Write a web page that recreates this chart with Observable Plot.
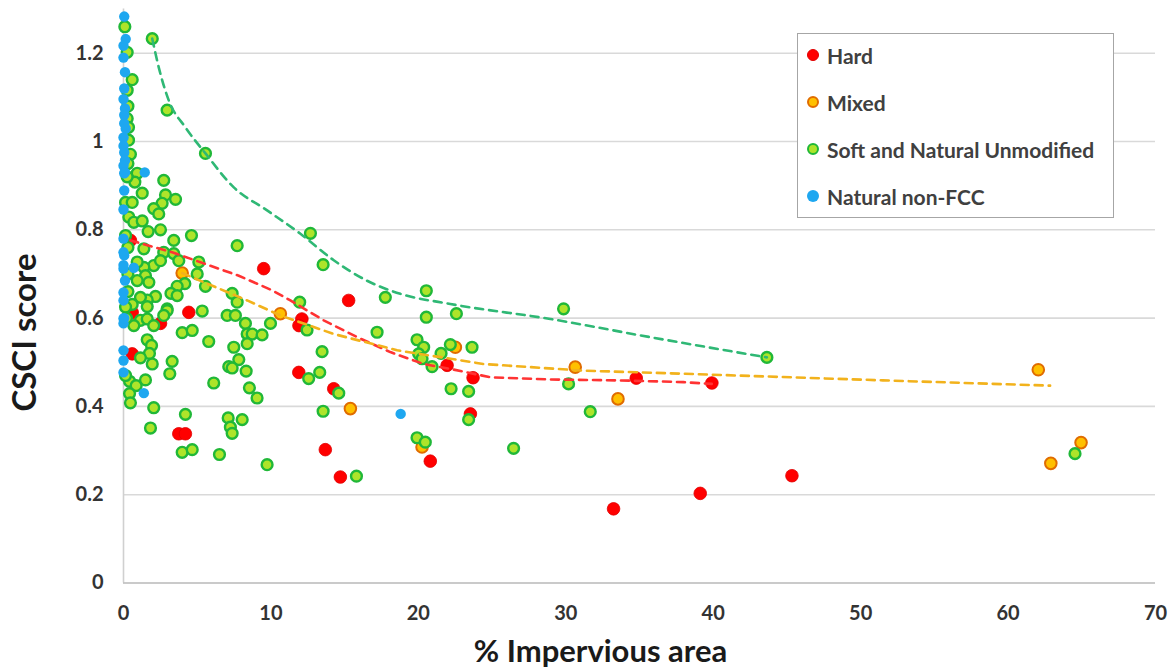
<!DOCTYPE html>
<html><head><meta charset="utf-8">
<script src="https://cdn.jsdelivr.net/npm/d3@7"></script>
<script src="https://cdn.jsdelivr.net/npm/@observablehq/plot@0.6"></script>
<style>
body{margin:0;background:#fff;}
#chart{position:relative;width:1172px;height:670px;font-family:Lato,"Open Sans",sans-serif;}
#legend{position:absolute;left:797px;top:33px;width:317px;height:185px;border:1.5px solid #a6a6a6;background:#fff;box-sizing:border-box;}
.item{position:absolute;left:9px;height:24px;display:flex;align-items:center;font-size:21px;font-weight:bold;color:#404040;white-space:nowrap;}
.sw{width:12px;height:12px;border-radius:50%;margin-right:8px;box-sizing:border-box;}
</style></head>
<body><div id="chart"></div>
<script>
// ---- data ----
const categories = ["Hard", "Mixed", "Soft and Natural Unmodified", "Natural non-FCC"];
const xTicks = [0, 10, 20, 30, 40, 50, 60, 70];
const yTicks = [0, 0.2, 0.4, 0.6, 0.8, 1, 1.2];
const xTitle = "% Impervious area";
const yTitle = "CSCI score";

const hardX = [0.47, 9.51, 4.43, 2.51, 0.59, 0.59, 15.27, 12.1, 11.9, 11.89, 14.26, 13.69, 14.71, 3.75, 4.2, 21.95, 23.71, 23.53, 20.81, 34.78, 39.91, 33.24, 39.12, 45.34];
const hardY = [0.776, 0.712, 0.613, 0.588, 0.613, 0.519, 0.640, 0.598, 0.583, 0.477, 0.44, 0.302, 0.240, 0.338, 0.338, 0.493, 0.465, 0.383, 0.276, 0.464, 0.453, 0.168, 0.203, 0.243];

const mixedX = [3.98, 10.64, 15.39, 22.51, 20.25, 30.64, 33.54, 62.05, 62.9, 64.95];
const mixedY = [0.702, 0.610, 0.395, 0.534, 0.308, 0.489, 0.417, 0.483, 0.271, 0.318];

const softX = [0.09,1.95,0.25,0.59,0.25,2.96,0.25,0.34,0.34,5.56,0.47,0.93,0.77,2.73,1.27,2.85,3.53,2.62,2.05,2.39,0.14,0.59,0.36,0.70,1.27,1.67,2.51,4.61,3.41,7.71,12.68,13.54,0.14,1.38,2.73,3.41,3.75,5.11,2.05,1.38,0.93,2.51,1.49,1.72,0.93,5.56,5.0,4.16,3.64,3.22,3.64,2.17,1.61,1.15,1.61,0.59,0.14,7.37,7.71,2.96,5.34,7.03,7.59,8.27,9.97,11.95,12.45,17.76,20.54,20.54,22.58,17.2,13.47,13.31,12.56,14.6,13.54,19.91,20.36,20.02,20.25,20.93,21.54,22.17,23.64,22.22,23.41,23.41,19.91,20.47,15.8,29.85,30.19,31.66,43.64,26.46,64.54,3.98,4.66,5.78,8.39,8.73,9.4,7.48,8.39,7.82,7.14,7.37,8.32,6.12,8.54,9.06,3.3,3.14,1.61,1.9,1.76,1.15,1.95,0.41,0.86,1.49,0.41,0.47,2.05,4.2,1.83,7.1,8.05,7.25,7.37,3.98,4.66,6.51,9.74,0.14,1.15,1.61,2.05,0.7,2.96,2.73,0.2,0.3,0.3,0.3,0.25,0.3,0.3];
const softY = [1.26,1.233,1.202,1.140,1.116,1.071,1.052,1.032,1.003,0.973,0.971,0.928,0.908,0.912,0.883,0.879,0.869,0.860,0.848,0.836,0.862,0.862,0.829,0.817,0.820,0.796,0.800,0.787,0.776,0.764,0.792,0.721,0.787,0.757,0.749,0.746,0.730,0.727,0.719,0.715,0.727,0.730,0.696,0.681,0.685,0.672,0.700,0.678,0.672,0.656,0.651,0.649,0.641,0.647,0.626,0.631,0.625,0.656,0.636,0.621,0.616,0.606,0.606,0.588,0.588,0.636,0.573,0.647,0.662,0.602,0.610,0.568,0.524,0.477,0.463,0.430,0.389,0.551,0.534,0.519,0.508,0.490,0.520,0.540,0.534,0.440,0.434,0.370,0.329,0.319,0.242,0.621,0.451,0.388,0.511,0.305,0.293,0.567,0.572,0.547,0.564,0.564,0.562,0.534,0.542,0.506,0.490,0.487,0.480,0.453,0.442,0.419,0.502,0.474,0.551,0.538,0.520,0.510,0.496,0.457,0.447,0.460,0.429,0.408,0.397,0.382,0.351,0.374,0.370,0.353,0.339,0.296,0.302,0.291,0.268,0.47,0.595,0.598,0.583,0.583,0.617,0.606,0.60,0.66,0.70,0.76,0.92,0.95,1.08];

const natX = [0.05,0.15,0,0.1,0.05,0,0.1,0.05,0.15,0,0.05,0.1,0,0.05,1.44,0.05,0,0,0,0.05,0,0.70,0.1,0,0,0,0,0,0,1.38,18.8,0,0.05,0,0.1,0,0,0.05];
const natY = [1.283,1.232,1.217,1.157,1.120,1.096,1.075,1.041,1.029,1.009,0.975,0.957,0.945,0.928,0.930,0.889,0.846,0.780,0.749,0.742,0.712,0.714,0.685,0.658,0.599,0.588,0.527,0.504,0.477,0.430,0.383,1.19,1.06,0.99,0.93,0.72,0.64,0.60];

// trend lines (dashed), vertices
const hardTrendX = [0.47, 3.3, 7.82, 10.08, 11.32, 13.58, 15.84, 18.1, 20.36, 22.17, 24.88, 28.95, 33.47, 37.99, 39.9];
const hardTrendY = [0.776, 0.749, 0.696, 0.663, 0.640, 0.595, 0.557, 0.523, 0.496, 0.485, 0.466, 0.461, 0.459, 0.455, 0.451];
const mixedTrendX = [3.98, 8.39, 10.64, 14.26, 18.56, 24.43, 31.2, 37.99, 51.5, 62.85];
const mixedTrendY = [0.702, 0.640, 0.606, 0.564, 0.527, 0.496, 0.481, 0.474, 0.459, 0.447];
const softTrendX = [1.95, 2.39, 3.07, 4.2, 5.56, 7.48, 9.74, 12.0, 14.26, 16.5, 18.78, 22.17, 28.95, 35.7, 43.64];
const softTrendY = [1.233, 1.168, 1.093, 1.032, 0.973, 0.896, 0.844, 0.791, 0.731, 0.685, 0.655, 0.632, 0.598, 0.557, 0.511];

// ---- styles ----
const look = {
  "Hard": {fill: "#ff0000", stroke: "#e00000", sw: 0.8, r: 6.3, line: "#ff3333", curve: "linear"},
  "Mixed": {fill: "#ffc000", stroke: "#e06c00", sw: 2, r: 5.8, line: "#f2b21c", curve: "linear"},
  "Soft and Natural Unmodified": {fill: "#aee42a", stroke: "#20b838", sw: 2.4, r: 5.4, line: "#2fb875", curve: "monotone-x"},
  "Natural non-FCC": {fill: "#1ea7f0", stroke: "none", sw: 0, r: 5.2, line: null}
};

const table = (xs, ys) => xs.map((x, i) => ({x, y: ys[i]}));
const series = {
  "Hard": table(hardX, hardY),
  "Mixed": table(mixedX, mixedY),
  "Soft and Natural Unmodified": table(softX, softY),
  "Natural non-FCC": table(natX, natY)
};
const trends = [
  ["Hard", table(hardTrendX, hardTrendY)],
  ["Mixed", table(mixedTrendX, mixedTrendY)],
  ["Soft and Natural Unmodified", table(softTrendX, softTrendY)]
];

const dotMarks = categories.map(c => Plot.dot(series[c], {
  x: "x", y: "y", r: look[c].r, fill: look[c].fill, stroke: look[c].stroke, strokeWidth: look[c].sw
}));
const lineMarks = trends.map(([c, d]) => Plot.line(d, {
  x: "x", y: "y", stroke: look[c].line, strokeWidth: 2.6, strokeDasharray: "8,6", curve: look[c].curve
}));

const chart = Plot.plot({
  width: 1172, height: 670,
  marginLeft: 123, marginRight: 17, marginTop: 8.55, marginBottom: 87.5,
  style: {fontFamily: "Lato, 'Open Sans', sans-serif", background: "white", overflow: "visible"},
  x: {domain: [0, 70]},
  y: {domain: [0, 1.3]},
  marks: [
    Plot.ruleY(yTicks.filter(d => d > 0), {stroke: "#d9d9d9", strokeWidth: 1.6}),
    Plot.ruleX([0], {y1: 0, y2: 1.3, stroke: "#d0d0d0", strokeWidth: 1.6}),
    Plot.ruleY([0], {stroke: "#b8b8b8", strokeWidth: 1.6}),
    Plot.axisX({ticks: xTicks, tickSize: 0, tickPadding: 23, fontSize: 20, fontWeight: "bold", fill: "#333", label: null}),
    Plot.axisY({ticks: yTicks, tickSize: 0, tickPadding: 20, fontSize: 20, fontWeight: "bold", fill: "#333", label: null, tickFormat: d3.format("")}),
    ...dotMarks,
    ...lineMarks,
    Plot.text([xTitle], {text: d => d, frameAnchor: "bottom", textAnchor: "middle", lineAnchor: "middle", dy: 69.5, dx: -39, fontSize: 31, fontWeight: "bold", fill: "#1a1a1a"}),
    Plot.text([yTitle], {text: d => d, frameAnchor: "left", textAnchor: "middle", lineAnchor: "middle", dx: -98, dy: 36.5, rotate: -90, fontSize: 33, fontWeight: "bold", fill: "#1a1a1a"})
  ]
});
const root = document.getElementById("chart");
root.appendChild(chart);

// legend overlay (inside plot area, as in the reference)
const legend = document.createElement("div");
legend.id = "legend";
const centers = [21, 68, 115, 162];
categories.forEach((c, i) => {
  const it = document.createElement("div");
  it.className = "item";
  it.style.top = (centers[i] - 12) + "px";
  const sw = document.createElement("span");
  sw.className = "sw";
  sw.style.background = look[c].fill;
  if (look[c].stroke !== "none") sw.style.border = Math.min(look[c].sw, 2) + "px solid " + look[c].stroke;
  it.appendChild(sw);
  it.appendChild(document.createTextNode(c));
  legend.appendChild(it);
});
root.appendChild(legend);
</script>
</body></html>
